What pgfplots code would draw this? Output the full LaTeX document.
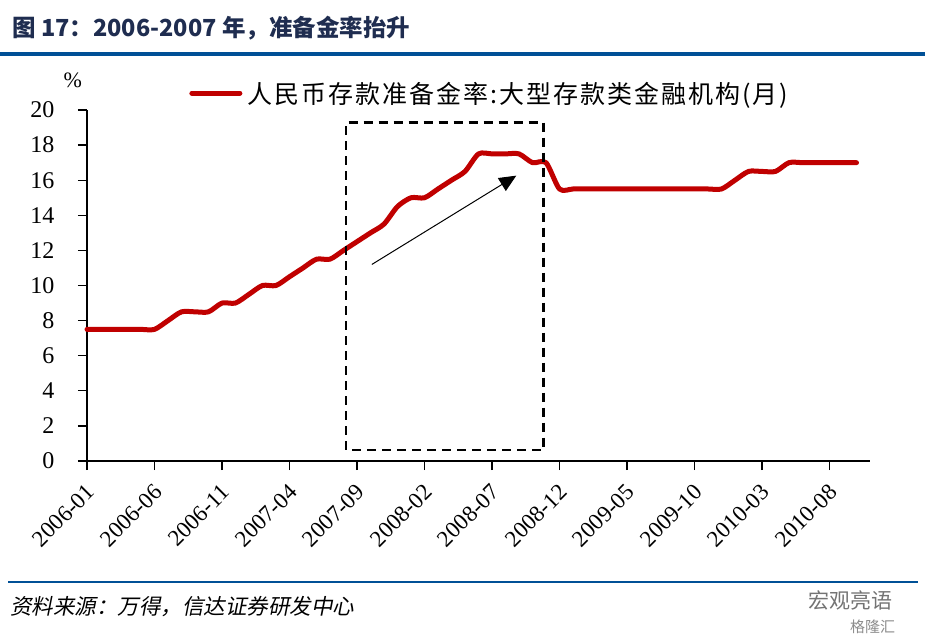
\documentclass[border=0pt]{standalone}
\usepackage{pgfplots}
\pgfplotsset{compat=1.18}
\usepackage{fontspec}
\usetikzlibrary{arrows.meta}
\setmainfont{Liberation Serif}
\newfontfamily\cjk{Noto Sans CJK SC}
\newfontfamily\cjkit{Noto Sans CJK SC}[FakeSlant=0.2]
\newfontfamily\cjkleg{Noto Sans CJK SC}[LetterSpace=8]
\definecolor{linered}{RGB}{192,0,0}
\definecolor{titlenavy}{RGB}{31,45,80}
\definecolor{rulebl}{RGB}{0,80,150}
\pgfplotstableread{
idx val
0 7.5
1 7.5
2 7.5
3 7.5
4 7.5
5 7.5
6 8.0
7 8.5
8 8.5
9 8.5
10 9.0
11 9.0
12 9.5
13 10.0
14 10.0
15 10.5
16 11.0
17 11.5
18 11.5
19 12.0
20 12.5
21 13.0
22 13.5
23 14.5
24 15.0
25 15.0
26 15.5
27 16.0
28 16.5
29 17.5
30 17.5
31 17.5
32 17.5
33 17.0
34 17.0
35 15.5
36 15.5
37 15.5
38 15.5
39 15.5
40 15.5
41 15.5
42 15.5
43 15.5
44 15.5
45 15.5
46 15.5
47 15.5
48 16.0
49 16.5
50 16.5
51 16.5
52 17.0
53 17.0
54 17.0
55 17.0
56 17.0
57 17.0
}\rrr
\begin{document}
\begin{tikzpicture}
\useasboundingbox (0,0) rectangle (931pt,-642pt);
% title and rules
\node[anchor=west, text=titlenavy, inner sep=0pt] at (12pt,-28pt) {\fontsize{23.5}{23.5}\selectfont\cjk\bfseries 图 17：2006-2007 年，准备金率抬升};
\draw[rulebl, line width=3.5pt] (0pt,-54pt) -- (925pt,-54pt);
\draw[rulebl, line width=2pt] (8pt,-582pt) -- (918pt,-582pt);
\node[anchor=west, inner sep=0pt] at (10pt,-607pt) {\fontsize{21.5}{21.5}\selectfont\cjkit 资料来源：万得，信达证券研发中心};
\node[anchor=west, inner sep=0pt, text=black!55] at (808pt,-600pt) {\fontsize{21}{21}\selectfont\cjk 宏观亮语};
\node[anchor=west, inner sep=0pt, text=black!45] at (850pt,-627pt) {\fontsize{15}{15}\selectfont\cjk 格隆汇};
\begin{axis}[
  at={(87pt,-461pt)}, anchor=south west,
  scale only axis, width=783pt, height=351pt,
  xmin=0, xmax=58, ymin=0, ymax=20,
  axis x line*=bottom, axis y line*=left,
  axis line style={line width=1.3pt, -},
  tick style={line width=1.3pt, black},
  tick align=outside, major tick length=9pt,
  xtick={0,5,...,55},
  xticklabels={2006-01,2006-06,2006-11,2007-04,2007-09,2008-02,2008-07,2008-12,2009-05,2009-10,2010-03,2010-08},
  ytick={0,2,...,20},
  xticklabel style={xshift=6pt, yshift=-16pt, rotate=45, anchor=east, font=\fontsize{23}{23}\selectfont},
  yticklabel style={xshift=-20pt, font=\fontsize{24}{24}\selectfont},
  /pgf/number format/assume math mode=true,
  ylabel={\%}, ylabel style={rotate=-90, at={(rel axis cs:-0.018,1.085)}, anchor=center, font=\fontsize{22}{22}\selectfont},
  legend style={at={(rel axis cs:0.1305,1.048)}, anchor=west, draw=none, fill=none, inner sep=0pt, font=\fontsize{25}{25}\selectfont\cjkleg},
  legend image code/.code={\draw[#1, line width=5pt, line cap=round] (0pt,0pt) -- (48pt,0pt);},
  clip=false,
]
\addplot[linered, line width=5pt, smooth, tension=0.45, line cap=round, line join=round] table[x=idx, y=val] {\rrr};
\addlegendentry{\hspace{3pt}人民币存款准备金率:大型存款类金融机构(月)}
\draw[black, line width=2.5pt, dash pattern=on 9pt off 6pt] (axis cs:19.2,0.63) rectangle (axis cs:33.8,19.3);
\draw[black, line width=1pt, -{Triangle[length=17pt,width=15pt]}] (axis cs:21.1,11.2) -- (axis cs:31.8,16.26);
\end{axis}
\end{tikzpicture}
\end{document}
